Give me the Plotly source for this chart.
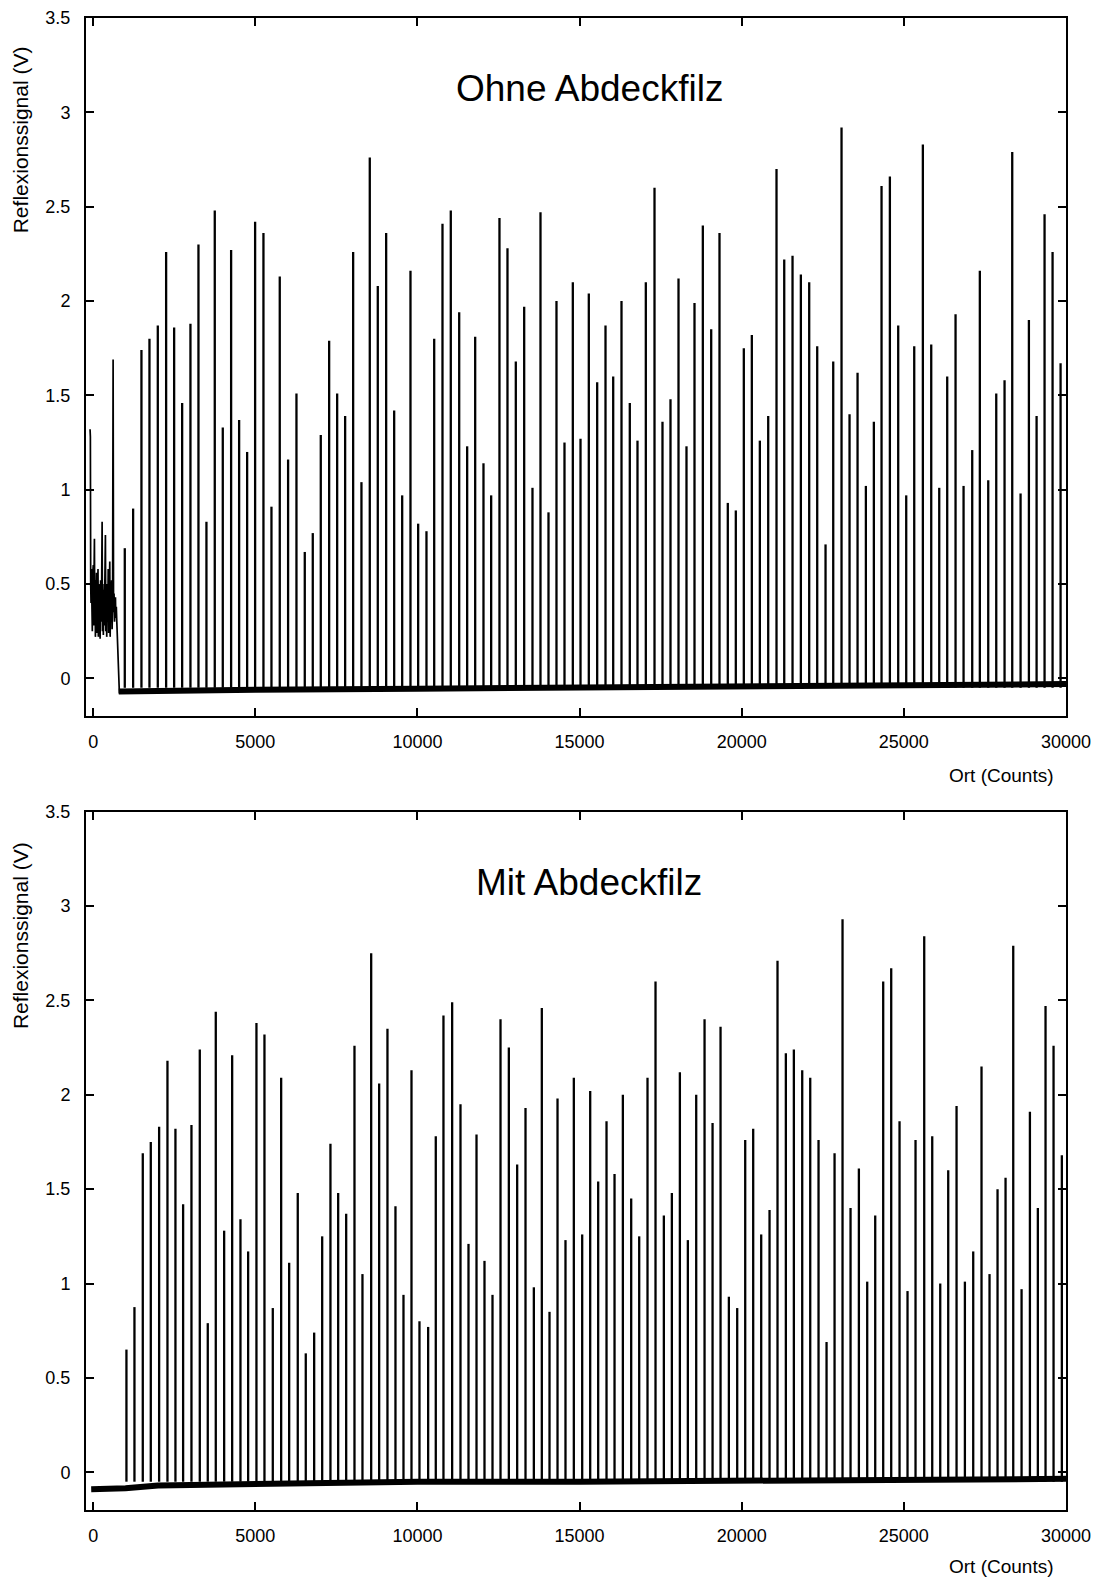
import plotly.graph_objects as go

# ---------------- data ----------------
x_ticks = [0, 5000, 10000, 15000, 20000, 25000, 30000]
y_ticks = [0, 0.5, 1, 1.5, 2, 2.5, 3, 3.5]
y_tick_text = ["0", "0.5", "1", "1.5", "2", "2.5", "3", "3.5"]

# Upper panel: "Ohne Abdeckfilz" – peak positions (counts) and peak heights (V)
top_peak_x = [976, 1233, 1490, 1737, 1994, 2251, 2498, 2745, 3001, 3248, 3494, 3751, 3998, 4255, 4502, 4749,
              4995, 5252, 5499, 5755, 6012, 6270, 6526, 6773, 7020, 7278, 7525, 7771, 8018, 8274, 8531, 8778,
              9036, 9283, 9530, 9786, 10023, 10279, 10517, 10773, 11029, 11288, 11534, 11781, 12037, 12274,
              12530, 12777, 13034, 13292, 13548, 13795, 14042, 14288, 14535, 14792, 15029, 15285, 15543, 15800,
              16037, 16293, 16549, 16786, 17043, 17311, 17557, 17804, 18051, 18297, 18544, 18801, 19059, 19315,
              19571, 19818, 20065, 20312, 20559, 20817, 21073, 21311, 21567, 21824, 22081, 22328, 22585, 22822,
              23078, 23325, 23572, 23829, 24075, 24312, 24569, 24826, 25073, 25320, 25586, 25844, 26091, 26337,
              26594, 26841, 27108, 27343, 27602, 27849, 28105, 28342, 28599, 28856, 29093, 29339, 29586, 29833]
top_peak_v = [0.69, 0.90, 1.74, 1.80, 1.87, 2.26, 1.86, 1.46, 1.88, 2.30, 0.83, 2.48, 1.33, 2.27, 1.37, 1.20,
              2.42, 2.36, 0.91, 2.13, 1.16, 1.51, 0.67, 0.77, 1.29, 1.79, 1.51, 1.39, 2.26, 1.04, 2.76, 2.08,
              2.36, 1.42, 0.97, 2.16, 0.82, 0.78, 1.80, 2.41, 2.48, 1.94, 1.23, 1.81, 1.14, 0.97,
              2.44, 2.28, 1.68, 1.97, 1.01, 2.47, 0.88, 2.00, 1.25, 2.10, 1.27, 2.04, 1.57, 1.87,
              1.60, 2.00, 1.46, 1.26, 2.10, 2.60, 1.36, 1.48, 2.12, 1.23, 1.99, 2.40, 1.85, 2.36,
              0.93, 0.89, 1.75, 1.82, 1.26, 1.39, 2.70, 2.22, 2.24, 2.14, 2.10, 1.76, 0.71, 1.68,
              2.92, 1.40, 1.62, 1.02, 1.36, 2.61, 2.66, 1.87, 0.97, 1.76, 2.83, 1.77, 1.01, 1.60,
              1.93, 1.02, 1.21, 2.16, 1.05, 1.51, 1.58, 2.79, 0.98, 1.90, 1.39, 2.46, 2.26, 1.67]

# Upper panel: noisy start of the scan (before the first regular peak)
top_start_x = [-95, -85, -75, -65, -55, -45, -35, -25, -15, -5, 5, 15, 25, 40, 50, 60, 70, 80, 95, 105, 115,
               125, 140, 150, 160, 175, 190, 200, 215, 230, 245, 260, 277, 287, 300, 315, 330, 345, 360, 379,
               390, 405, 420, 435, 450, 465, 480, 495, 513, 525, 540, 555, 570, 585, 600, 616, 630, 645, 660,
               675, 688, 700, 715, 730, 760, 790, 810]
top_start_v = [1.32, 1.28, 0.50, 0.40, 0.58, 0.30, 0.48, 0.25, 0.55, 0.35, 0.60, 0.28, 0.50, 0.74, 0.30, 0.52,
               0.22, 0.45, 0.30, 0.56, 0.24, 0.48, 0.35, 0.58, 0.22, 0.50, 0.28, 0.46, 0.21, 0.52, 0.30, 0.44,
               0.83, 0.25, 0.50, 0.23, 0.47, 0.28, 0.55, 0.76, 0.25, 0.45, 0.22, 0.50, 0.30, 0.58, 0.24, 0.42,
               0.62, 0.22, 0.46, 0.30, 0.52, 0.26, 0.40, 1.69, 0.35, 0.45, 0.30, 0.40, 0.43, 0.32, 0.38, 0.30,
               0.10, -0.06, -0.08]

# Upper panel baseline level
top_base_x = [790, 2000, 5000, 10000, 15000, 20000, 25000, 30000]
top_base_v = [-0.07, -0.065, -0.06, -0.055, -0.05, -0.045, -0.04, -0.03]

# Lower panel: "Mit Abdeckfilz"
bottom_peak_x = [1027, 1274, 1531, 1778, 2035, 2292, 2538, 2775, 3032, 3289, 3535, 3782, 4040, 4287, 4543, 4780,
                 5036, 5283, 5540, 5798, 6045, 6310, 6557, 6816, 7063, 7318, 7556, 7803, 8059, 8305, 8574, 8820,
                 9076, 9323, 9570, 9817, 10063, 10331, 10566, 10803, 11071, 11328, 11575, 11822, 12068, 12315,
                 12562, 12819, 13076, 13333, 13590, 13836, 14073, 14320, 14566, 14823, 15081, 15328, 15574, 15831,
                 16078, 16335, 16592, 16839, 17095, 17342, 17599, 17846, 18093, 18339, 18597, 18854, 19101, 19347,
                 19604, 19861, 20108, 20354, 20601, 20858, 21104, 21361, 21608, 21866, 22113, 22369, 22616, 22863,
                 23109, 23356, 23613, 23870, 24117, 24363, 24610, 24867, 25113, 25360, 25628, 25875, 26122, 26368,
                 26625, 26882, 27139, 27395, 27642, 27889, 28136, 28373, 28630, 28887, 29132, 29369, 29616, 29872]
bottom_peak_v = [0.65, 0.875, 1.69, 1.75, 1.83, 2.18, 1.82, 1.42, 1.84, 2.24, 0.79, 2.44, 1.28, 2.21, 1.34, 1.17,
                 2.38, 2.32, 0.87, 2.09, 1.11, 1.48, 0.63, 0.74, 1.25, 1.74, 1.48, 1.37, 2.26, 1.05, 2.75, 2.06,
                 2.35, 1.41, 0.94, 2.13, 0.80, 0.77, 1.78, 2.42, 2.49, 1.95, 1.21, 1.79, 1.12, 0.94,
                 2.40, 2.25, 1.63, 1.93, 0.98, 2.46, 0.85, 1.98, 1.23, 2.09, 1.26, 2.02, 1.54, 1.86,
                 1.58, 2.00, 1.45, 1.25, 2.09, 2.60, 1.36, 1.48, 2.12, 1.23, 2.00, 2.40, 1.85, 2.36,
                 0.93, 0.87, 1.76, 1.82, 1.26, 1.39, 2.71, 2.22, 2.24, 2.13, 2.09, 1.76, 0.69, 1.69,
                 2.93, 1.40, 1.61, 1.01, 1.36, 2.60, 2.67, 1.86, 0.96, 1.76, 2.84, 1.78, 1.00, 1.60,
                 1.94, 1.01, 1.17, 2.15, 1.05, 1.50, 1.56, 2.79, 0.97, 1.91, 1.40, 2.47, 2.26, 1.68]

bottom_base_x = [-60, 1000, 2000, 5000, 10000, 15000, 20000, 25000, 30000]
bottom_base_v = [-0.09, -0.085, -0.07, -0.06, -0.05, -0.05, -0.045, -0.04, -0.035]

SPIKE_FOOT = -0.05

panel_titles = ["Ohne Abdeckfilz", "Mit Abdeckfilz"]
y_title = "Reflexionssignal (V)"
x_title = "Ort (Counts)"

# ---------------- figure ----------------
W, H = 1108, 1580
FONT = "Liberation Sans, Arial, Helvetica, sans-serif"

# pixel frame of the plotting region
PL, PR, PT, PB = 85.6, 1066.0, 18.1, 1510.5
PW, PH = PR - PL, PB - PT


def fx(px):
    return (px - PL) / PW


def fy(py):
    return (PB - py) / PH


def spike_path(xs, vs, foot):
    X, Y = [], []
    for x, v in zip(xs, vs):
        X += [x, x, None]
        Y += [foot, v, None]
    return X, Y


fig = go.Figure()

# upper panel
fig.add_trace(go.Scatter(x=top_base_x, y=top_base_v, mode="lines",
                         line=dict(color="black", width=6), xaxis="x", yaxis="y", hoverinfo="skip"))
sx, sy = spike_path(top_peak_x, top_peak_v, SPIKE_FOOT)
fig.add_trace(go.Scatter(x=sx, y=sy, mode="lines", line=dict(color="black", width=2.3),
                         xaxis="x", yaxis="y"))
fig.add_trace(go.Scatter(x=top_start_x, y=top_start_v, mode="lines", line=dict(color="black", width=1.7),
                         xaxis="x", yaxis="y"))

# lower panel
fig.add_trace(go.Scatter(x=bottom_base_x, y=bottom_base_v, mode="lines",
                         line=dict(color="black", width=6), xaxis="x2", yaxis="y2", hoverinfo="skip"))
sx, sy = spike_path(bottom_peak_x, bottom_peak_v, SPIKE_FOOT)
fig.add_trace(go.Scatter(x=sx, y=sy, mode="lines", line=dict(color="black", width=2.3),
                         xaxis="x2", yaxis="y2"))

top_top, top_bot = 18.1, 716.4
bot_top, bot_bot = 812.0, 1510.5

common_axis = dict(showline=True, linewidth=2, linecolor="black", mirror="ticks", ticks="inside",
                   ticklen=8, tickwidth=2, tickcolor="black", showgrid=False, zeroline=False,
                   automargin=False,
                   tickfont=dict(family=FONT, size=18, color="black"))

xa = dict(common_axis, range=[-220, 30000], tickvals=x_ticks, ticktext=[str(v) for v in x_ticks],
          domain=[0, 1], ticklabelstandoff=8)
ya = dict(common_axis, range=[-0.2, 3.5], tickvals=y_ticks, ticktext=y_tick_text, ticklabelstandoff=10)

fig.update_layout(
    width=W, height=H, autosize=False,
    margin=dict(l=PL, r=W - PR, t=PT, b=H - PB, pad=0, autoexpand=False),
    paper_bgcolor="white", plot_bgcolor="white",
    showlegend=False,
    font=dict(family=FONT, color="black"),
    xaxis=dict(xa, anchor="y"),
    yaxis=dict(ya, anchor="x", domain=[fy(top_bot), fy(top_top)]),
    xaxis2=dict(xa, anchor="y2"),
    yaxis2=dict(ya, anchor="x2", domain=[fy(bot_bot), fy(bot_top)]),
)

annotations = []
for title, cy in zip(panel_titles, [89, 883]):
    annotations.append(dict(text=title, x=fx(589), y=fy(cy), xref="paper", yref="paper",
                            showarrow=False, xanchor="center", yanchor="middle",
                            font=dict(family=FONT, size=37, color="black")))
for cy in [140, 936]:
    annotations.append(dict(text=y_title, x=fx(20), y=fy(cy), xref="paper", yref="paper",
                            showarrow=False, xanchor="center", yanchor="middle", textangle=-90,
                            font=dict(family=FONT, size=21, color="black")))
for cy in [776, 1567]:
    annotations.append(dict(text=x_title, x=fx(1056), y=fy(cy), xref="paper", yref="paper",
                            showarrow=False, xanchor="right", yanchor="middle",
                            font=dict(family=FONT, size=19, color="black")))
fig.update_layout(annotations=annotations)

fig.write_html("out.html")
